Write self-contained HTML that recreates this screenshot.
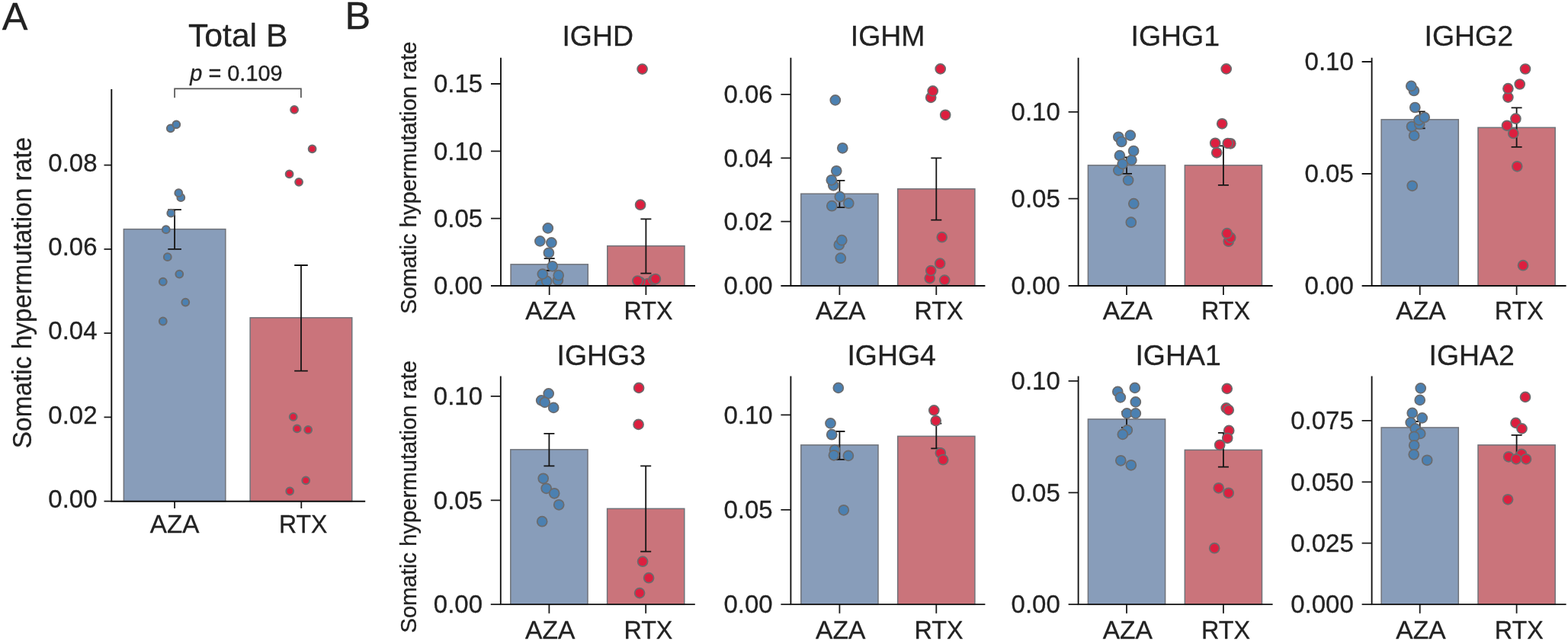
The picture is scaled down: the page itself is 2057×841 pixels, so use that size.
<!DOCTYPE html>
<html lang="en">
<head>
<meta charset="utf-8">
<title>Somatic hypermutation rate</title>
<style>
html,body{margin:0;padding:0;background:#fff;}
body{width:2057px;height:841px;overflow:hidden;font-family:"Liberation Sans", sans-serif;}
svg{display:block;}
</style>
</head>
<body>
<svg width="2057" height="841" viewBox="0 0 2057 841" font-family='"Liberation Sans", sans-serif' fill="#222222">
<style>text{stroke:#222222;stroke-width:0.3px;stroke-linejoin:round}</style>
<rect width="2057" height="841" fill="#ffffff"/>
<text x="2.8" y="38.5" font-size="50.5">A</text>
<text x="452.4" y="38.1" font-size="50.5">B</text>
<g>
<clipPath id="clip0"><rect x="146.3" y="77" width="332.9" height="580.7"/></clipPath>
<text x="312.2" y="60.6" font-size="42.7" text-anchor="middle">Total B</text>
<rect x="162.35" y="300.65" width="133.5" height="357.05" fill="#889dba" stroke="#70737a" stroke-width="1.5"/>
<rect x="328.15" y="416.85" width="133.6" height="240.85" fill="#ca747b" stroke="#70737a" stroke-width="1.5"/>
<path d="M220.3 275.2H237.9M229.1 275.2V326.8M220.3 326.8H237.9" fill="none" stroke="#141414" stroke-width="1.8"/>
<path d="M386.2 348H403.8M395 348V486.7M386.2 486.7H403.8" fill="none" stroke="#141414" stroke-width="1.8"/>
<g clip-path="url(#clip0)" stroke="#6b6b6d" stroke-width="2.0">
<g fill="#4b80b1">
<circle cx="213.8" cy="421.5" r="4.9"/>
<circle cx="243.3" cy="396.6" r="4.9"/>
<circle cx="213.8" cy="369.6" r="4.9"/>
<circle cx="235.3" cy="359.6" r="4.9"/>
<circle cx="219.8" cy="337.2" r="4.9"/>
<circle cx="217.8" cy="301.2" r="4.9"/>
<circle cx="224.3" cy="279.7" r="4.9"/>
<circle cx="237.3" cy="259.2" r="4.9"/>
<circle cx="234.3" cy="253.2" r="4.9"/>
<circle cx="223.8" cy="168.3" r="4.9"/>
<circle cx="231.3" cy="163.3" r="4.9"/>
</g>
<g fill="#dc1f3f">
<circle cx="380.2" cy="644.3" r="4.9"/>
<circle cx="401.2" cy="630.3" r="4.9"/>
<circle cx="404.2" cy="563.9" r="4.9"/>
<circle cx="389.7" cy="562.4" r="4.9"/>
<circle cx="384.7" cy="546.9" r="4.9"/>
<circle cx="392.1" cy="238.8" r="4.9"/>
<circle cx="379.6" cy="228.3" r="4.9"/>
<circle cx="409.6" cy="195.3" r="4.9"/>
<circle cx="386.1" cy="143.9" r="4.9"/>
</g>
</g>
<path d="M229.1 128.3V116.4H394.9V128.3" fill="none" stroke="#555555" stroke-width="1.7"/>
<text transform="translate(249.3 105.7) scale(1 1.03)" font-size="28.9"><tspan font-style="italic">p</tspan> = 0.109</text>
<path d="M136.5 216.6H146.3M136.5 326.9H146.3M136.5 437.1H146.3M136.5 547.4H146.3M136.5 657.7H146.3M229.1 657.7V667.1M395.3 657.7V667.1" fill="none" stroke="#1a1a1a" stroke-width="1.8"/>
<path d="M146.3 117V657.7H479.2" fill="none" stroke="#101010" stroke-width="1.9"/>
<g font-size="33">
<text transform="translate(127.5 224.9) scale(1 1.03)" text-anchor="end">0.08</text>
<text transform="translate(127.5 335.2) scale(1 1.03)" text-anchor="end">0.06</text>
<text transform="translate(127.5 445.4) scale(1 1.03)" text-anchor="end">0.04</text>
<text transform="translate(127.5 555.7) scale(1 1.03)" text-anchor="end">0.02</text>
<text transform="translate(127.5 666) scale(1 1.03)" text-anchor="end">0.00</text>
<text transform="translate(229.1 699) scale(1.0 1.01)" font-size="33.3" text-anchor="middle">AZA</text>
<text transform="translate(397.7 699) scale(0.962 1.01)" font-size="33.3" text-anchor="middle">RTX</text>
</g>
<text transform="translate(41 384.1) rotate(-90) scale(1 1.035)" font-size="33.4" text-anchor="middle">Somatic hypermutation rate</text>
</g>
<g>
<clipPath id="clip1"><rect x="657" y="35.7" width="255" height="339.3"/></clipPath>
<text x="784.2" y="60.1" font-size="37.4" text-anchor="middle">IGHD</text>
<rect x="670.1" y="346.85" width="101.2" height="28.15" fill="#889dba" stroke="#70737a" stroke-width="1.5"/>
<rect x="796.8" y="322.65" width="101.2" height="52.35" fill="#ca747b" stroke="#70737a" stroke-width="1.5"/>
<path d="M713.7 339.2H727.7M720.7 339.2V355M713.7 355H727.7" fill="none" stroke="#141414" stroke-width="1.8"/>
<path d="M840.4 287.3H854.4M847.4 287.3V358.6M840.4 358.6H854.4" fill="none" stroke="#141414" stroke-width="1.8"/>
<g clip-path="url(#clip1)" stroke="#6b6b6d" stroke-width="1.7">
<g fill="#4b80b1">
<circle cx="709.5" cy="373.6" r="6.5"/>
<circle cx="717.2" cy="368.9" r="6.5"/>
<circle cx="731.9" cy="367.7" r="6.5"/>
<circle cx="732.7" cy="361.2" r="6.5"/>
<circle cx="711.8" cy="359.6" r="6.5"/>
<circle cx="724.7" cy="349.3" r="6.5"/>
<circle cx="719.9" cy="331.8" r="6.5"/>
<circle cx="723.4" cy="318.4" r="6.5"/>
<circle cx="708.4" cy="316.4" r="6.5"/>
<circle cx="718.8" cy="299.4" r="6.5"/>
</g>
<g fill="#dc1f3f">
<circle cx="850" cy="372" r="6.5"/>
<circle cx="839.4" cy="370" r="6.5"/>
<circle cx="836.4" cy="368.5" r="6.5"/>
<circle cx="857.4" cy="367" r="6.5"/>
<circle cx="859.9" cy="366" r="6.5"/>
<circle cx="840.1" cy="268.7" r="6.5"/>
<circle cx="842.6" cy="90.6" r="6.5"/>
</g>
</g>
<path d="M644 110H657M644 198.3H657M644 286.6H657M644 375H657M720.7 375V387M847.4 375V387" fill="none" stroke="#1a1a1a" stroke-width="1.8"/>
<path d="M657 75.7V375H912" fill="none" stroke="#101010" stroke-width="1.85"/>
<g font-size="33">
<text transform="translate(633.2 121.3) scale(1 1.03)" text-anchor="end">0.15</text>
<text transform="translate(633.2 209.6) scale(1 1.03)" text-anchor="end">0.10</text>
<text transform="translate(633.2 297.9) scale(1 1.03)" text-anchor="end">0.05</text>
<text transform="translate(633.2 386.3) scale(1 1.03)" text-anchor="end">0.00</text>
<text transform="translate(722 419.2) scale(1.0 1.01)" font-size="33.6" text-anchor="middle">AZA</text>
<text transform="translate(850.6 419.2) scale(0.962 1.01)" font-size="33.6" text-anchor="middle">RTX</text>
</g>
<text transform="translate(545.6 233.3) rotate(-90) scale(1 1.035)" font-size="29.25" text-anchor="middle">Somatic hypermutation rate</text>
</g>
<g>
<clipPath id="clip2"><rect x="1037.4" y="35.7" width="255" height="339.3"/></clipPath>
<text x="1164.6" y="60.1" font-size="37.4" text-anchor="middle">IGHM</text>
<rect x="1050.8" y="254.25" width="101.2" height="120.75" fill="#889dba" stroke="#70737a" stroke-width="1.5"/>
<rect x="1177.7" y="247.85" width="101.2" height="127.15" fill="#ca747b" stroke="#70737a" stroke-width="1.5"/>
<path d="M1094.4 236.8H1108.4M1101.4 236.8V272.2M1094.4 272.2H1108.4" fill="none" stroke="#141414" stroke-width="1.8"/>
<path d="M1221.3 207.3H1235.3M1228.3 207.3V288.7M1221.3 288.7H1235.3" fill="none" stroke="#141414" stroke-width="1.8"/>
<g clip-path="url(#clip2)" stroke="#6b6b6d" stroke-width="1.7">
<g fill="#4b80b1">
<circle cx="1102.8" cy="338.7" r="6.5"/>
<circle cx="1100.8" cy="321.2" r="6.5"/>
<circle cx="1104.3" cy="315.2" r="6.5"/>
<circle cx="1091.3" cy="270.2" r="6.5"/>
<circle cx="1113.3" cy="266.7" r="6.5"/>
<circle cx="1101.8" cy="258.2" r="6.5"/>
<circle cx="1093.3" cy="243.3" r="6.5"/>
<circle cx="1090.8" cy="236.3" r="6.5"/>
<circle cx="1097.3" cy="224.3" r="6.5"/>
<circle cx="1105.3" cy="194.3" r="6.5"/>
<circle cx="1095.8" cy="131.4" r="6.5"/>
</g>
<g fill="#dc1f3f">
<circle cx="1239.2" cy="367.6" r="6.5"/>
<circle cx="1219.7" cy="365.1" r="6.5"/>
<circle cx="1221.2" cy="355.1" r="6.5"/>
<circle cx="1233.2" cy="345.7" r="6.5"/>
<circle cx="1235.7" cy="311.2" r="6.5"/>
<circle cx="1240.2" cy="150.8" r="6.5"/>
<circle cx="1221.2" cy="127.9" r="6.5"/>
<circle cx="1223.7" cy="119.4" r="6.5"/>
<circle cx="1233.7" cy="90.4" r="6.5"/>
</g>
</g>
<path d="M1024.4 123.9H1037.4M1024.4 207.3H1037.4M1024.4 290.7H1037.4M1024.4 375H1037.4M1101.4 375V387M1228.3 375V387" fill="none" stroke="#1a1a1a" stroke-width="1.8"/>
<path d="M1037.4 75.7V375H1292.4" fill="none" stroke="#101010" stroke-width="1.85"/>
<g font-size="33">
<text transform="translate(1013.6 135.2) scale(1 1.03)" text-anchor="end">0.06</text>
<text transform="translate(1013.6 218.6) scale(1 1.03)" text-anchor="end">0.04</text>
<text transform="translate(1013.6 302) scale(1 1.03)" text-anchor="end">0.02</text>
<text transform="translate(1013.6 386.3) scale(1 1.03)" text-anchor="end">0.00</text>
<text transform="translate(1102.7 419.2) scale(1.0 1.01)" font-size="33.6" text-anchor="middle">AZA</text>
<text transform="translate(1231.5 419.2) scale(0.962 1.01)" font-size="33.6" text-anchor="middle">RTX</text>
</g>
</g>
<g>
<clipPath id="clip3"><rect x="1414.6" y="35.7" width="255" height="339.3"/></clipPath>
<text x="1541.8" y="60.1" font-size="37.4" text-anchor="middle">IGHG1</text>
<rect x="1427.4" y="216.85" width="101.2" height="158.15" fill="#889dba" stroke="#70737a" stroke-width="1.5"/>
<rect x="1554.3" y="216.85" width="101.2" height="158.15" fill="#ca747b" stroke="#70737a" stroke-width="1.5"/>
<path d="M1471 206.5H1485M1478 206.5V227.9M1471 227.9H1485" fill="none" stroke="#141414" stroke-width="1.8"/>
<path d="M1597.9 191.3H1611.9M1604.9 191.3V242.8M1597.9 242.8H1611.9" fill="none" stroke="#141414" stroke-width="1.8"/>
<g clip-path="url(#clip3)" stroke="#6b6b6d" stroke-width="1.7">
<g fill="#4b80b1">
<circle cx="1487.3" cy="267.2" r="6.5"/>
<circle cx="1483.8" cy="291.7" r="6.5"/>
<circle cx="1467.3" cy="179.8" r="6.5"/>
<circle cx="1482.8" cy="177.6" r="6.5"/>
<circle cx="1471.3" cy="186" r="6.5"/>
<circle cx="1468.9" cy="204.1" r="6.5"/>
<circle cx="1484.4" cy="210.1" r="6.5"/>
<circle cx="1487.1" cy="198" r="6.5"/>
<circle cx="1467.3" cy="223.6" r="6.5"/>
<circle cx="1472.6" cy="215.1" r="6.5"/>
<circle cx="1480.1" cy="236.5" r="6.5"/>
</g>
<g fill="#dc1f3f">
<circle cx="1608.7" cy="90.4" r="6.5"/>
<circle cx="1603.2" cy="162.3" r="6.5"/>
<circle cx="1594.2" cy="187.8" r="6.5"/>
<circle cx="1596.2" cy="200.3" r="6.5"/>
<circle cx="1611.7" cy="316.7" r="6.5"/>
<circle cx="1614.2" cy="311.7" r="6.5"/>
<circle cx="1609.7" cy="306.2" r="6.5"/>
<circle cx="1614.3" cy="188.3" r="6.5"/>
<circle cx="1610.7" cy="188" r="6.5"/>
</g>
</g>
<path d="M1401.6 146.9H1414.6M1401.6 260.7H1414.6M1401.6 375H1414.6M1478 375V387M1604.9 375V387" fill="none" stroke="#1a1a1a" stroke-width="1.8"/>
<path d="M1414.6 75.7V375H1669.6" fill="none" stroke="#101010" stroke-width="1.85"/>
<g font-size="33">
<text transform="translate(1390.8 158.2) scale(1 1.03)" text-anchor="end">0.10</text>
<text transform="translate(1390.8 272) scale(1 1.03)" text-anchor="end">0.05</text>
<text transform="translate(1390.8 386.3) scale(1 1.03)" text-anchor="end">0.00</text>
<text transform="translate(1479.3 419.2) scale(1.0 1.01)" font-size="33.6" text-anchor="middle">AZA</text>
<text transform="translate(1608.1 419.2) scale(0.962 1.01)" font-size="33.6" text-anchor="middle">RTX</text>
</g>
</g>
<g>
<clipPath id="clip4"><rect x="1799.6" y="35.7" width="255" height="339.3"/></clipPath>
<text x="1926.8" y="60.1" font-size="37.4" text-anchor="middle">IGHG2</text>
<rect x="1812.1" y="156.85" width="101.2" height="218.15" fill="#889dba" stroke="#70737a" stroke-width="1.5"/>
<rect x="1939" y="167.35" width="101.2" height="207.65" fill="#ca747b" stroke="#70737a" stroke-width="1.5"/>
<path d="M1855.7 146.4H1869.7M1862.7 146.4V168.3M1855.7 168.3H1869.7" fill="none" stroke="#141414" stroke-width="1.8"/>
<path d="M1982.6 141.4H1996.6M1989.6 141.4V192.8M1982.6 192.8H1996.6" fill="none" stroke="#141414" stroke-width="1.8"/>
<g clip-path="url(#clip4)" stroke="#6b6b6d" stroke-width="1.7">
<g fill="#4b80b1">
<circle cx="1852.7" cy="243.8" r="6.5"/>
<circle cx="1855.1" cy="177.9" r="6.5"/>
<circle cx="1852" cy="166" r="6.5"/>
<circle cx="1862.2" cy="162.9" r="6.5"/>
<circle cx="1861.5" cy="157.6" r="6.5"/>
<circle cx="1868.7" cy="154" r="6.5"/>
<circle cx="1856.3" cy="141" r="6.5"/>
<circle cx="1854.9" cy="119" r="6.5"/>
<circle cx="1851.3" cy="112.9" r="6.5"/>
</g>
<g fill="#dc1f3f">
<circle cx="1998" cy="348.2" r="6.5"/>
<circle cx="1990.3" cy="218.3" r="6.5"/>
<circle cx="1985.3" cy="175" r="6.5"/>
<circle cx="1977" cy="164.8" r="6.5"/>
<circle cx="1988.4" cy="155.7" r="6.5"/>
<circle cx="1978.4" cy="127.6" r="6.5"/>
<circle cx="1978.4" cy="116.2" r="6.5"/>
<circle cx="1993.7" cy="110.5" r="6.5"/>
<circle cx="2001" cy="90.5" r="6.5"/>
</g>
</g>
<path d="M1786.6 81H1799.6M1786.6 228H1799.6M1786.6 375H1799.6M1862.7 375V387M1989.6 375V387" fill="none" stroke="#1a1a1a" stroke-width="1.8"/>
<path d="M1799.6 75.7V375H2054.6" fill="none" stroke="#101010" stroke-width="1.85"/>
<g font-size="33">
<text transform="translate(1775.8 92.3) scale(1 1.03)" text-anchor="end">0.10</text>
<text transform="translate(1775.8 239.3) scale(1 1.03)" text-anchor="end">0.05</text>
<text transform="translate(1775.8 386.3) scale(1 1.03)" text-anchor="end">0.00</text>
<text transform="translate(1864 419.2) scale(1.0 1.01)" font-size="33.6" text-anchor="middle">AZA</text>
<text transform="translate(1992.8 419.2) scale(0.962 1.01)" font-size="33.6" text-anchor="middle">RTX</text>
</g>
</g>
<g>
<clipPath id="clip5"><rect x="656.8" y="453.6" width="255" height="339.2"/></clipPath>
<text x="788.8" y="479" font-size="37.4" text-anchor="middle">IGHG3</text>
<rect x="669.8" y="589.85" width="101.2" height="202.95" fill="#889dba" stroke="#70737a" stroke-width="1.5"/>
<rect x="796.6" y="667.35" width="101.2" height="125.45" fill="#ca747b" stroke="#70737a" stroke-width="1.5"/>
<path d="M713.4 568.9H727.4M720.4 568.9V611.3M713.4 611.3H727.4" fill="none" stroke="#141414" stroke-width="1.8"/>
<path d="M840.2 611.3H854.2M847.2 611.3V723.7M840.2 723.7H854.2" fill="none" stroke="#141414" stroke-width="1.8"/>
<g clip-path="url(#clip5)" stroke="#6b6b6d" stroke-width="1.7">
<g fill="#4b80b1">
<circle cx="719.7" cy="516.4" r="6.5"/>
<circle cx="710.2" cy="525.4" r="6.5"/>
<circle cx="714.7" cy="527.9" r="6.5"/>
<circle cx="726.2" cy="534.9" r="6.5"/>
<circle cx="712.7" cy="627.8" r="6.5"/>
<circle cx="716.7" cy="640.8" r="6.5"/>
<circle cx="727.2" cy="647.3" r="6.5"/>
<circle cx="733.2" cy="662.3" r="6.5"/>
<circle cx="711.2" cy="684.2" r="6.5"/>
</g>
<g fill="#dc1f3f">
<circle cx="838.1" cy="508.9" r="6.5"/>
<circle cx="837.6" cy="556.9" r="6.5"/>
<circle cx="843.1" cy="736.7" r="6.5"/>
<circle cx="851.1" cy="758.2" r="6.5"/>
<circle cx="839.1" cy="778.1" r="6.5"/>
</g>
</g>
<path d="M643.8 519.9H656.8M643.8 656.3H656.8M643.8 792.8H656.8M720.4 792.8V804.8M847.2 792.8V804.8" fill="none" stroke="#1a1a1a" stroke-width="1.8"/>
<path d="M656.8 493.6V792.8H911.8" fill="none" stroke="#101010" stroke-width="1.85"/>
<g font-size="33">
<text transform="translate(633 531.2) scale(1 1.03)" text-anchor="end">0.10</text>
<text transform="translate(633 667.6) scale(1 1.03)" text-anchor="end">0.05</text>
<text transform="translate(633 804.1) scale(1 1.03)" text-anchor="end">0.00</text>
<text transform="translate(721.7 837.5) scale(1.0 1.01)" font-size="33.6" text-anchor="middle">AZA</text>
<text transform="translate(850.4 837.5) scale(0.962 1.01)" font-size="33.6" text-anchor="middle">RTX</text>
</g>
<text transform="translate(545.6 651.8) rotate(-90) scale(1 1.035)" font-size="29.25" text-anchor="middle">Somatic hypermutation rate</text>
</g>
<g>
<clipPath id="clip6"><rect x="1037.4" y="453.6" width="255" height="339.2"/></clipPath>
<text x="1169.6" y="479" font-size="37.4" text-anchor="middle">IGHG4</text>
<rect x="1050.8" y="583.85" width="101.2" height="208.95" fill="#889dba" stroke="#70737a" stroke-width="1.5"/>
<rect x="1177.7" y="572.35" width="101.2" height="220.45" fill="#ca747b" stroke="#70737a" stroke-width="1.5"/>
<path d="M1094.4 566H1108.4M1101.4 566V602.9M1094.4 602.9H1108.4" fill="none" stroke="#141414" stroke-width="1.8"/>
<path d="M1221.3 555.7H1235.3M1228.3 555.7V588.4M1221.3 588.4H1235.3" fill="none" stroke="#141414" stroke-width="1.8"/>
<g clip-path="url(#clip6)" stroke="#6b6b6d" stroke-width="1.7">
<g fill="#4b80b1">
<circle cx="1099.8" cy="508.9" r="6.5"/>
<circle cx="1089.5" cy="555.4" r="6.5"/>
<circle cx="1091.2" cy="570.2" r="6.5"/>
<circle cx="1095.1" cy="590.2" r="6.5"/>
<circle cx="1093.9" cy="597.3" r="6.5"/>
<circle cx="1112.9" cy="597.9" r="6.5"/>
<circle cx="1106.8" cy="669.3" r="6.5"/>
</g>
<g fill="#dc1f3f">
<circle cx="1225.3" cy="538.4" r="6.5"/>
<circle cx="1227.7" cy="552.1" r="6.5"/>
<circle cx="1233.8" cy="594.3" r="6.5"/>
<circle cx="1237.2" cy="603.2" r="6.5"/>
</g>
</g>
<path d="M1024.4 544.4H1037.4M1024.4 668.8H1037.4M1024.4 792.8H1037.4M1101.4 792.8V804.8M1228.3 792.8V804.8" fill="none" stroke="#1a1a1a" stroke-width="1.8"/>
<path d="M1037.4 493.6V792.8H1292.4" fill="none" stroke="#101010" stroke-width="1.85"/>
<g font-size="33">
<text transform="translate(1013.6 555.7) scale(1 1.03)" text-anchor="end">0.10</text>
<text transform="translate(1013.6 680.1) scale(1 1.03)" text-anchor="end">0.05</text>
<text transform="translate(1013.6 804.1) scale(1 1.03)" text-anchor="end">0.00</text>
<text transform="translate(1102.7 837.5) scale(1.0 1.01)" font-size="33.6" text-anchor="middle">AZA</text>
<text transform="translate(1231.5 837.5) scale(0.962 1.01)" font-size="33.6" text-anchor="middle">RTX</text>
</g>
</g>
<g>
<clipPath id="clip7"><rect x="1414.6" y="453.6" width="255" height="339.2"/></clipPath>
<text x="1545.6" y="479" font-size="37.4" text-anchor="middle">IGHA1</text>
<rect x="1427.4" y="549.95" width="101.2" height="242.85" fill="#889dba" stroke="#70737a" stroke-width="1.5"/>
<rect x="1554.3" y="590.35" width="101.2" height="202.45" fill="#ca747b" stroke="#70737a" stroke-width="1.5"/>
<path d="M1471 540.5H1485M1478 540.5V560.8M1471 560.8H1485" fill="none" stroke="#141414" stroke-width="1.8"/>
<path d="M1597.9 567.9H1611.9M1604.9 567.9V612.6M1597.9 612.6H1611.9" fill="none" stroke="#141414" stroke-width="1.8"/>
<g clip-path="url(#clip7)" stroke="#6b6b6d" stroke-width="1.7">
<g fill="#4b80b1">
<circle cx="1488.8" cy="508.9" r="6.5"/>
<circle cx="1466.3" cy="513.9" r="6.5"/>
<circle cx="1469.8" cy="521.4" r="6.5"/>
<circle cx="1489.8" cy="527.4" r="6.5"/>
<circle cx="1478.3" cy="542.4" r="6.5"/>
<circle cx="1489.8" cy="542.4" r="6.5"/>
<circle cx="1478.8" cy="564.4" r="6.5"/>
<circle cx="1472.8" cy="569.9" r="6.5"/>
<circle cx="1470.3" cy="604.3" r="6.5"/>
<circle cx="1483.8" cy="610.3" r="6.5"/>
</g>
<g fill="#dc1f3f">
<circle cx="1609.7" cy="509.9" r="6.5"/>
<circle cx="1608.7" cy="535.4" r="6.5"/>
<circle cx="1611.7" cy="537.9" r="6.5"/>
<circle cx="1612.2" cy="564.9" r="6.5"/>
<circle cx="1610.2" cy="574.8" r="6.5"/>
<circle cx="1600.2" cy="583.8" r="6.5"/>
<circle cx="1598.7" cy="640.3" r="6.5"/>
<circle cx="1611.7" cy="646.8" r="6.5"/>
<circle cx="1593.2" cy="719.2" r="6.5"/>
</g>
</g>
<path d="M1401.6 499.9H1414.6M1401.6 646.4H1414.6M1401.6 792.8H1414.6M1478 792.8V804.8M1604.9 792.8V804.8" fill="none" stroke="#1a1a1a" stroke-width="1.8"/>
<path d="M1414.6 493.6V792.8H1669.6" fill="none" stroke="#101010" stroke-width="1.85"/>
<g font-size="33">
<text transform="translate(1390.8 511.2) scale(1 1.03)" text-anchor="end">0.10</text>
<text transform="translate(1390.8 657.7) scale(1 1.03)" text-anchor="end">0.05</text>
<text transform="translate(1390.8 804.1) scale(1 1.03)" text-anchor="end">0.00</text>
<text transform="translate(1479.3 837.5) scale(1.0 1.01)" font-size="33.6" text-anchor="middle">AZA</text>
<text transform="translate(1608.1 837.5) scale(0.962 1.01)" font-size="33.6" text-anchor="middle">RTX</text>
</g>
</g>
<g>
<clipPath id="clip8"><rect x="1799.6" y="453.6" width="255" height="339.2"/></clipPath>
<text x="1930.7" y="479" font-size="37.4" text-anchor="middle">IGHA2</text>
<rect x="1812.1" y="560.95" width="101.2" height="231.85" fill="#889dba" stroke="#70737a" stroke-width="1.5"/>
<rect x="1939" y="583.85" width="101.2" height="208.95" fill="#ca747b" stroke="#70737a" stroke-width="1.5"/>
<path d="M1855.7 553H1869.7M1862.7 553V568M1855.7 568H1869.7" fill="none" stroke="#141414" stroke-width="1.8"/>
<path d="M1982.6 570.9H1996.6M1989.6 570.9V597M1982.6 597H1996.6" fill="none" stroke="#141414" stroke-width="1.8"/>
<g clip-path="url(#clip8)" stroke="#6b6b6d" stroke-width="1.7">
<g fill="#4b80b1">
<circle cx="1863.7" cy="509.4" r="6.5"/>
<circle cx="1862.7" cy="524.9" r="6.5"/>
<circle cx="1852.7" cy="541.9" r="6.5"/>
<circle cx="1865.7" cy="548.4" r="6.5"/>
<circle cx="1850.7" cy="554.4" r="6.5"/>
<circle cx="1856.7" cy="562.4" r="6.5"/>
<circle cx="1863.2" cy="568.9" r="6.5"/>
<circle cx="1855.2" cy="572.8" r="6.5"/>
<circle cx="1855.2" cy="584.3" r="6.5"/>
<circle cx="1854.7" cy="596.3" r="6.5"/>
<circle cx="1872.2" cy="603.8" r="6.5"/>
</g>
<g fill="#dc1f3f">
<circle cx="2001" cy="520.9" r="6.5"/>
<circle cx="1988.5" cy="554.9" r="6.5"/>
<circle cx="1996.5" cy="562.4" r="6.5"/>
<circle cx="1996" cy="595.8" r="6.5"/>
<circle cx="1979.1" cy="599.3" r="6.5"/>
<circle cx="1989" cy="602.3" r="6.5"/>
<circle cx="2002" cy="602.3" r="6.5"/>
<circle cx="1978.1" cy="655.3" r="6.5"/>
</g>
</g>
<path d="M1786.6 551.9H1799.6M1786.6 632.3H1799.6M1786.6 712.6H1799.6M1786.6 792.8H1799.6M1862.7 792.8V804.8M1989.6 792.8V804.8" fill="none" stroke="#1a1a1a" stroke-width="1.8"/>
<path d="M1799.6 493.6V792.8H2054.6" fill="none" stroke="#101010" stroke-width="1.85"/>
<g font-size="33">
<text transform="translate(1775.8 563.2) scale(1 1.03)" text-anchor="end">0.075</text>
<text transform="translate(1775.8 643.6) scale(1 1.03)" text-anchor="end">0.050</text>
<text transform="translate(1775.8 723.9) scale(1 1.03)" text-anchor="end">0.025</text>
<text transform="translate(1775.8 804.1) scale(1 1.03)" text-anchor="end">0.000</text>
<text transform="translate(1864 837.5) scale(1.0 1.01)" font-size="33.6" text-anchor="middle">AZA</text>
<text transform="translate(1992.8 837.5) scale(0.962 1.01)" font-size="33.6" text-anchor="middle">RTX</text>
</g>
</g>
</svg>
</body>
</html>
